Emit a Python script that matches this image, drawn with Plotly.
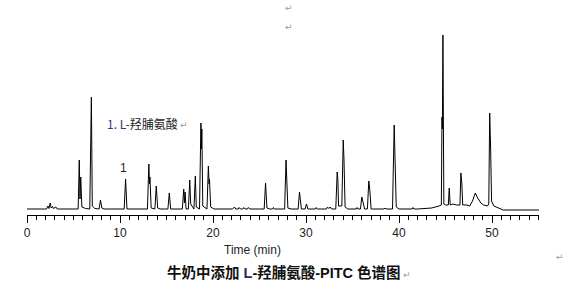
import plotly.graph_objects as go

# Chromatogram trace (time in min, signal in arbitrary units, baseline = 0)
time_min = [0, 2.1, 2.25, 2.35, 2.5, 2.6, 2.75, 2.85, 3.1, 3.25,
            5.5, 5.62, 5.7, 5.78, 5.9, 6.3, 6.75, 6.84, 6.88, 6.92, 7.02, 7.3,
            7.75, 7.9, 8.05, 8.3,
            10.45, 10.6, 10.75,
            12.95, 13.1, 13.17, 13.22, 13.35, 13.75, 13.9, 14.05, 14.3,
            15.15, 15.3, 15.45,
            16.7, 16.85, 16.93, 17.0, 17.1, 17.35, 17.5, 17.6, 17.95, 18.1, 18.2,
            18.55, 18.7, 18.75, 18.8, 18.9, 19.35, 19.5, 19.58, 19.62, 19.75, 20.1,
            22.1, 22.3, 22.45, 22.7, 22.8, 22.95, 23.2, 23.3, 23.45, 23.7, 23.8, 23.95,
            25.5, 25.65, 25.8, 26.1, 26.4, 26.5, 26.6,
            27.7, 27.85, 27.92, 28.05, 28.4,
            29.15, 29.3, 29.38, 29.5, 29.9, 30.05, 30.2,
            31.0, 31.1, 31.2, 32.2, 32.3, 32.45, 32.6, 32.75,
            33.2, 33.35, 33.42, 33.5, 33.85, 34.0, 34.08, 34.2, 34.5,
            35.4, 35.5, 35.6, 35.85, 36.0, 36.15, 36.3, 36.6, 36.75, 36.85, 37.0,
            38.4, 38.5, 38.6, 39.3, 39.48, 39.55, 39.7, 40.0,
            41.4, 41.5, 41.6, 42.0, 43.5, 44.3, 44.55, 44.62, 44.66, 44.72, 44.82,
            45.0, 45.3, 45.4, 45.5, 45.8, 46.2, 46.55, 46.65, 46.75, 46.85, 47.3,
            47.6, 47.9, 48.2, 48.4, 48.8, 49.1, 49.5, 49.65, 49.75, 49.85, 49.95,
            50.2, 50.8, 51.2, 55.05]
signal = [0, 0, 3, 0.5, 6, 1, 2.5, 0.5, 2, 0,
          0, 49, 10, 32, 2, 0.5, 0, 69, 60, 112, 3, 0.5,
          0, 9, 1, 0,
          0, 30, 0,
          0, 45, 25, 32, 1, 0, 23, 1, 0,
          0, 16, 0,
          0, 20, 6, 17, 0, 0, 29, 5, 0, 33, 2,
          0, 86, 60, 80, 3, 0, 43, 25, 30, 2, 0,
          0, 2, 0, 0, 1.5, 0, 0, 1.5, 0, 0, 1.5, 0,
          0, 26, 1, 0, 0, 1.5, 0,
          0, 49, 30, 1, 0,
          0, 17, 12, 0, 0, 5, 0,
          0, 1.5, 0, 0, 2, 0.5, 2, 0,
          0, 37, 30, 3, 3, 69, 50, 2, 0,
          0, 1.5, 0, 0, 12, 6, 0, 0, 28, 20, 0,
          0, 1, 0, 0, 84, 58, 2, 0,
          0, 1.5, 0, 0, 1, 3, 4, 92, 80, 174, 5,
          4, 4, 21, 4, 5, 4, 4, 36, 26, 4, 4,
          3, 8, 16, 12, 6, 4, 3, 5, 96, 60, 8,
          3, 1, -1, -1]

x_ticks = [0, 10, 20, 30, 40, 50]
x_tick_labels = ["0", "10", "20", "30", "40", "50"]

peak_label = '<span style="color:#4b2a6e">1. L</span>-羟脯氨酸'
peak_number = "1"
axis_title = "Time (min)"
chart_title = ('<b>牛奶中添加 <span style="color:#2e2a5e">L</span>-羟脯氨酸-PITC 色谱图</b>'
               '<span style="color:#9a9a9a;font-size:9px"> ↵</span>')
return_mark = "↵"

L, R, T, B = 27, 28, 30, 75
W, H = 567, 290
PW, PH = W - L - R, H - T - B

def px_x(px):
    return (px - L) / PW

def px_y(py):
    return (H - B - py) / PH

fig = go.Figure()
fig.add_trace(go.Scatter(x=time_min, y=signal, mode="lines",
                         line=dict(color="black", width=1), hoverinfo="skip",
                         showlegend=False))

cjk = "Noto Sans CJK SC, Liberation Sans, Arial, sans-serif"
mixed = "Liberation Sans, Noto Sans CJK SC, sans-serif"
ann = []
ann.append(dict(text=peak_label, x=px_x(105), y=px_y(124), xref="paper", yref="paper",
                xanchor="left", yanchor="middle", showarrow=False,
                font=dict(family=cjk, size=12, color="#222222")))
ann.append(dict(text=peak_number, x=px_x(123), y=px_y(168), xref="paper", yref="paper",
                xanchor="center", yanchor="middle", showarrow=False,
                font=dict(family="Liberation Sans, Arial", size=12, color="#222222")))
ann.append(dict(text=axis_title, x=px_x(252), y=px_y(250), xref="paper", yref="paper",
                xanchor="center", yanchor="middle", showarrow=False,
                font=dict(family="Liberation Sans, Arial", size=12, color="#222222")))
ann.append(dict(text=chart_title, x=px_x(165), y=px_y(272), xref="paper", yref="paper",
                xanchor="left", yanchor="middle", showarrow=False,
                font=dict(family=mixed, size=14.5, color="#111111")))
for (ax_, ay_) in [(289, 8), (289, 27), (560, 257), (184, 125)]:
    ann.append(dict(text=return_mark, x=px_x(ax_), y=px_y(ay_), xref="paper", yref="paper",
                    xanchor="center", yanchor="middle", showarrow=False,
                    font=dict(family="DejaVu Sans", size=9, color="#9a9a9a")))

fig.update_layout(
    width=W, height=H,
    margin=dict(l=L, r=R, t=T, b=B, pad=0),
    paper_bgcolor="white", plot_bgcolor="white",
    annotations=ann,
    xaxis=dict(range=[0, 55.05], tickmode="array", tickvals=x_ticks, ticktext=x_tick_labels,
               showline=True, linecolor="black", linewidth=1, mirror=False,
               ticks="outside", ticklen=7, tickwidth=1, tickcolor="black",
               minor=dict(dtick=1, ticks="outside", ticklen=4, tickcolor="black", tickwidth=1),
               showgrid=False, zeroline=False,
               tickfont=dict(family="Liberation Sans, Arial", size=12, color="#222222")),
    yaxis=dict(range=[-6, 179], visible=False, showgrid=False, zeroline=False),
)

fig.write_html("out.html")
